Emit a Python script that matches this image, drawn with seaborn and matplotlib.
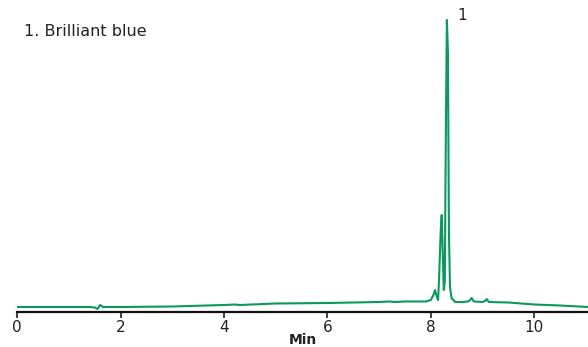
import pandas as pd
import numpy as np
import matplotlib
matplotlib.use("Agg")
import matplotlib.pyplot as plt
import seaborn as sns

# chromatogram trace (time in min, detector signal in arbitrary units)
time_min = [0.0, 1.40, 1.50, 1.55, 1.60, 1.66, 2.0, 3.0, 4.0, 4.2, 4.3, 5.0, 6.0, 7.0,
            7.2, 7.3, 7.5, 7.9, 8.0, 8.05, 8.08, 8.11, 8.14, 8.16, 8.19, 8.21, 8.23,
            8.25, 8.27, 8.29, 8.31, 8.33, 8.35, 8.37, 8.40, 8.47, 8.6, 8.72, 8.76,
            8.79, 8.83, 9.0, 9.05, 9.08, 9.12, 9.5, 10.0, 10.5, 11.04]
signal = [5, 5, 4.5, 3, 7, 5, 5, 5.5, 7, 7.5, 7, 8.5, 9, 10,
          10.5, 10, 10.5, 10.5, 12, 17, 22, 16, 12, 35, 80, 97, 60,
          22, 30, 180, 292, 260, 80, 25, 14, 10, 10, 10.5, 12,
          14, 10.5, 10, 11, 13, 10, 9.5, 7.5, 6.5, 5]

peak_label = "1"
peak_time = 8.52
legend_text = "1. Brilliant blue"
x_ticks = [0, 2, 4, 6, 8, 10]

df = pd.DataFrame({"Min": time_min, "Signal": signal})

sns.set_style("white")
plt.rcParams["font.family"] = ["DejaVu Sans"]

fig = plt.figure(figsize=(5.88, 3.47), dpi=100)
ax = fig.add_axes([17.3 / 588, 35 / 347, 1 - 17.3 / 588, 1 - 35 / 347])

sns.lineplot(data=df, x="Min", y="Signal", color="#0a9a5c", linewidth=1.5, ax=ax)

ax.set_xlim(0, 11.04)
ax.set_ylim(0, 312)
ax.set_xticks(x_ticks)
ax.set_yticks([])
ax.set_ylabel("")
ax.set_xlabel("Min", fontsize=10, fontweight="bold", color="#222222", labelpad=-1.5)
ax.tick_params(axis="x", direction="out", length=4, width=1.2, color="#222222",
               labelsize=11, labelcolor="#222222", pad=1.5, bottom=True)
for side in ["top", "right", "left"]:
    ax.spines[side].set_visible(False)
ax.spines["bottom"].set_linewidth(1.6)
ax.spines["bottom"].set_color("#111111")

ax.text(peak_time, 296, peak_label, fontsize=11, color="#222222", ha="left", va="center")
fig.text(24 / 588, 1 - 36 / 347, legend_text, fontsize=11.5, color="#222222",
         ha="left", va="baseline")

fig.savefig("out.png", dpi=100)
